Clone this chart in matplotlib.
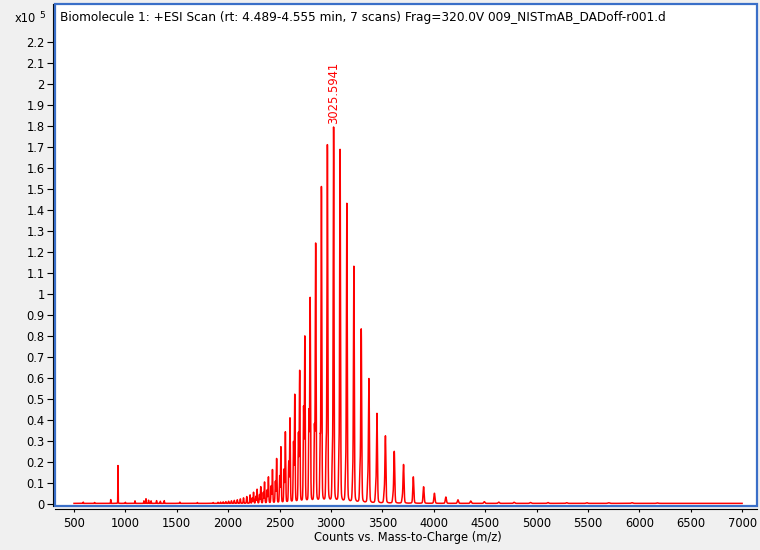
import numpy as np
import matplotlib
matplotlib.use('Agg')
import matplotlib.pyplot as plt
from matplotlib.patches import Rectangle

plt.rcParams['font.family'] = ['DejaVu Sans']

# charge-state envelope (m/z, intensity in 1e5 counts)
main_mz = [1853.6, 1901.1, 1925.7, 1951.1, 1977.1, 2003.8, 2031.2, 2059.4, 2088.4,
           2118.2, 2148.9, 2180.5, 2213.0, 2246.5, 2281.1, 2316.7, 2353.5, 2391.4,
           2430.6, 2471.1, 2513.0, 2556.3, 2601.1, 2647.5, 2695.6, 2745.5, 2797.3,
           2851.1, 2907.0, 2965.1, 3025.59, 3088.6, 3154.3, 3222.8, 3294.4, 3369.3,
           3447.6, 3529.7, 3615.8, 3706.1, 3801.1, 3901.1, 4006.5, 4117.8, 4235.4,
           4360.0, 4492.1, 4632.4, 4781.8, 4941.2, 5111.5, 5294.0, 5490.1, 5701.2,
           5929.2, 6176.2]
main_int = [0.004, 0.005, 0.006, 0.007, 0.008, 0.010, 0.012, 0.014, 0.017,
            0.021, 0.026, 0.032, 0.040, 0.052, 0.066, 0.078, 0.100, 0.124,
            0.158, 0.210, 0.265, 0.335, 0.400, 0.510, 0.622, 0.782, 0.965,
            1.225, 1.495, 1.695, 1.780, 1.675, 1.420, 1.122, 0.822, 0.588,
            0.424, 0.318, 0.245, 0.183, 0.126, 0.079, 0.048, 0.030, 0.017,
            0.011, 0.008, 0.006, 0.005, 0.004, 0.004, 0.003, 0.003, 0.003,
            0.003, 0.002]

# shoulder peaks sitting just below each main peak
shoulder_mz = [2234.5, 2269.1, 2304.7, 2341.5, 2379.4, 2418.6, 2459.1, 2501.0,
               2544.3, 2589.1, 2635.5, 2683.6, 2733.5, 2785.3, 2839.1, 2895.0,
               2953.1, 3013.6, 3076.6, 3142.3, 3210.8, 3282.4, 3357.3, 3435.6,
               3517.7, 3603.8, 3694.1]
shoulder_int = [0.025, 0.032, 0.040, 0.050, 0.062, 0.080, 0.100, 0.125,
                0.155, 0.190, 0.280, 0.320, 0.440, 0.420, 0.340, 0.280,
                0.240, 0.200, 0.160, 0.120, 0.090, 0.140, 0.090, 0.060,
                0.045, 0.030, 0.022]

# low m/z region
low_mz = [590, 700, 857, 927.6, 1000, 1093, 1180, 1200, 1225, 1250, 1303, 1340, 1378, 1530, 1700]
low_int = [0.006, 0.004, 0.018, 0.180, 0.005, 0.012, 0.012, 0.022, 0.015, 0.012,
           0.013, 0.010, 0.013, 0.006, 0.004]

baseline = 0.003
mz_start, mz_end = 500, 7000
peak_label = '3025.5941'
title = 'Biomolecule 1: +ESI Scan (rt: 4.489-4.555 min, 7 scans) Frag=320.0V 009_NISTmAB_DADoff-r001.d'


def profile(x, centers, heights):
    y = np.zeros_like(x)
    for m, h in zip(centers, heights):
        s = 0.0013 * m
        g = 0.0016 * m
        d = x - m
        y += h * (0.82 * np.exp(-0.5 * (d / s) ** 2) + 0.18 * g * g / (g * g + d * d))
    return y


x = np.linspace(mz_start, mz_end, 65001)
y = baseline + profile(x, main_mz, main_int) + profile(x, shoulder_mz, shoulder_int) \
    + profile(x, low_mz, low_int)

fig = plt.figure(figsize=(7.6, 5.5), dpi=100, facecolor='#f0f0f0')
ax = fig.add_axes([55 / 760, 44 / 550, 702 / 760, 502 / 550])
ax.set_facecolor('white')

ax.plot(x, y, color='#ff0000', lw=1.1)

ax.set_xlim(315, 7145)
ax.set_ylim(-0.0095, 2.381)
ax.set_xticks(np.arange(500, 7001, 500))
yt = np.round(np.arange(0, 2.21, 0.1), 1)
ax.set_yticks(yt)
ax.set_yticklabels(['%g' % v for v in yt])

for side in ['top', 'right']:
    ax.spines[side].set_visible(False)
ax.spines['left'].set_position(('outward', 1.5))
ax.spines['bottom'].set_position(('outward', 2.2))
ax.spines['left'].set_color('black')
ax.spines['bottom'].set_color('black')
ax.tick_params(axis='y', length=4.5, width=0.8, pad=1.5, labelsize=8.3)
ax.tick_params(axis='x', length=2.5, width=0.8, pad=3, labelsize=8.3)

ax.add_patch(Rectangle((0, 0), 1, 1, transform=ax.transAxes, fill=False,
                       edgecolor='#3a6fc8', lw=1.6, clip_on=False, zorder=5))

ax.annotate(peak_label, xy=(3025.59, 1.79), xytext=(0, 3), textcoords='offset points',
            rotation=90, ha='center', va='bottom', color='#ff0000', fontsize=8.3)

ax.text(5 / 702, 1 - 14 / 502, title, transform=ax.transAxes, ha='left', va='center',
        fontsize=8.7)

fig.text(36 / 760, 1 - 19 / 550, 'x10', ha='right', va='center', fontsize=8.3)
fig.text(39 / 760, 1 - 15 / 550, '5', ha='left', va='center', fontsize=6.5)
fig.text(408 / 760, 1 - 538 / 550, 'Counts vs. Mass-to-Charge (m/z)', ha='center',
         va='center', fontsize=8.3)

fig.savefig('out.png', dpi=100, facecolor=fig.get_facecolor())
